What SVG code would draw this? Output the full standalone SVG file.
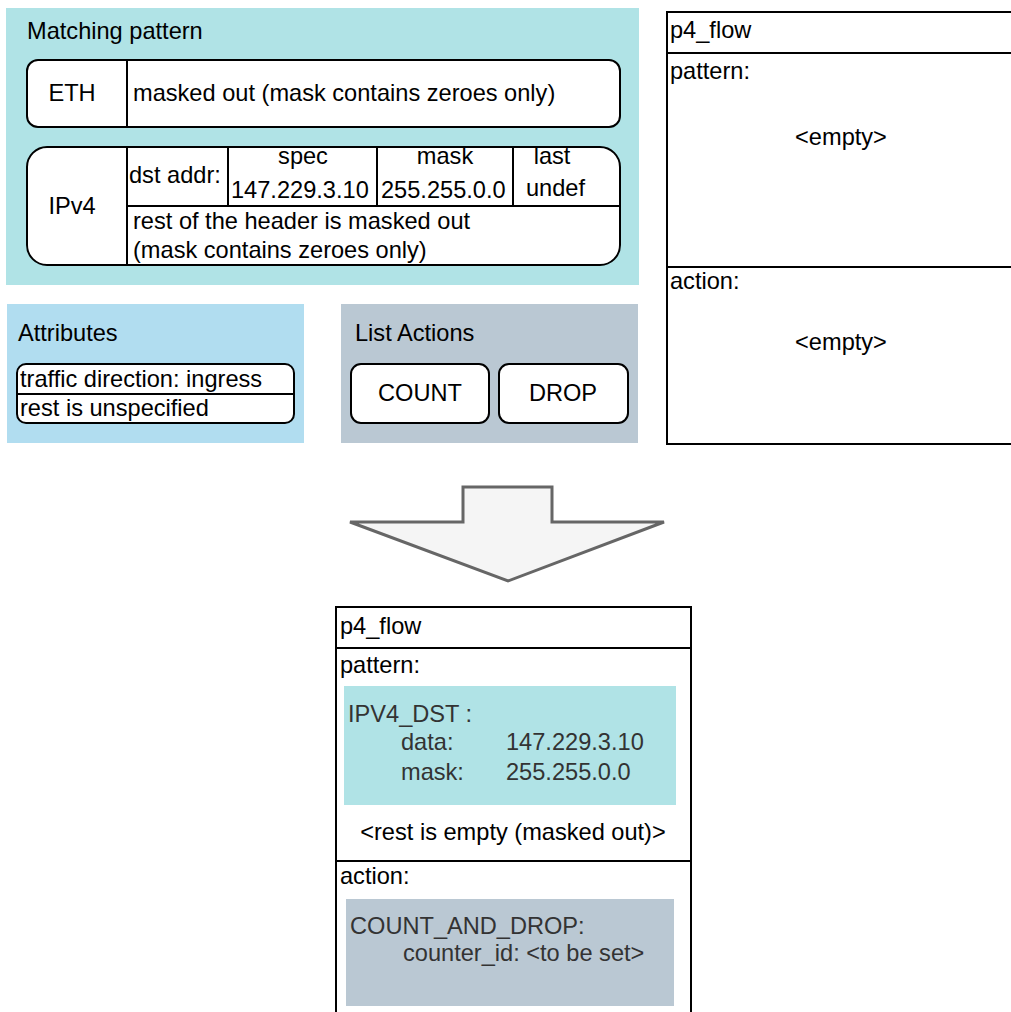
<svg xmlns="http://www.w3.org/2000/svg" width="1011" height="1012" viewBox="0 0 1011 1012">
  <style>
    text { font-family: "Liberation Sans", Arial, sans-serif; font-size: 23.6px; fill: #000; }
    .dim { fill: #333333; }
    .mid { text-anchor: middle; }
    .frame { fill: #ffffff; stroke: #000; stroke-width: 2; }
    .line { fill: none; stroke: #000; stroke-width: 2; }
  </style>
  <rect width="1011" height="1012" fill="#ffffff"/>

  <!-- Matching pattern panel -->
  <g id="matching-pattern">
    <rect x="6" y="8" width="633" height="277" fill="#b0e3e6"/>
    <text x="27" y="39">Matching pattern</text>
  </g>
  <g id="eth-row">
    <rect class="frame" x="27" y="60" width="593" height="67" rx="11"/>
    <line class="line" x1="127" y1="60" x2="127" y2="127"/>
    <text class="mid" x="72" y="101">ETH</text>
    <text x="133" y="101">masked out (mask contains zeroes only)</text>
  </g>
  <g id="ipv4-row">
    <rect class="frame" x="27" y="147" width="593" height="118" rx="20"/>
    <line class="line" x1="127" y1="147" x2="127" y2="265"/>
    <line class="line" x1="127" y1="206" x2="620" y2="206"/>
    <line class="line" x1="228" y1="147" x2="228" y2="206"/>
    <line class="line" x1="377" y1="147" x2="377" y2="206"/>
    <line class="line" x1="513" y1="147" x2="513" y2="206"/>
    <text class="mid" x="72" y="214">IPv4</text>
    <text x="129" y="183">dst addr:</text>
    <text class="mid" x="303" y="164">spec</text>
    <text x="231" y="198">147.229.3.10</text>
    <text class="mid" x="445" y="164">mask</text>
    <text x="381" y="198">255.255.0.0</text>
    <text class="mid" x="552" y="164">last</text>
    <text x="526" y="196">undef</text>
    <text x="133" y="229">rest of the header is masked out</text>
    <text x="133" y="258">(mask contains zeroes only)</text>
  </g>

  <!-- Attributes panel -->
  <g id="attributes">
    <rect x="7" y="304" width="297" height="139" fill="#b1ddf0"/>
    <text x="18" y="341">Attributes</text>
    <rect class="frame" x="17" y="364" width="277" height="59" rx="9"/>
    <line class="line" x1="17" y1="394" x2="294" y2="394"/>
    <text x="20" y="387">traffic direction: ingress</text>
    <text x="20" y="416">rest is unspecified</text>
  </g>

  <!-- List Actions panel -->
  <g id="list-actions">
    <rect x="341" y="304" width="297" height="139" fill="#bac8d3"/>
    <text x="355" y="341">List Actions</text>
  </g>
  <g id="action-count">
    <rect class="frame" x="351" y="364" width="138" height="59" rx="10"/>
    <text class="mid" x="420" y="401">COUNT</text>
  </g>
  <g id="action-drop">
    <rect class="frame" x="499" y="364" width="129" height="59" rx="10"/>
    <text class="mid" x="563" y="401">DROP</text>
  </g>

  <!-- Empty p4_flow -->
  <g id="p4-flow-empty">
    <rect class="frame" x="667" y="12" width="360" height="432"/>
    <line class="line" x1="667" y1="53" x2="1027" y2="53"/>
    <line class="line" x1="667" y1="267" x2="1027" y2="267"/>
    <text x="670" y="38">p4_flow</text>
    <text x="670" y="79">pattern:</text>
    <text class="mid" x="841" y="145">&lt;empty&gt;</text>
    <text x="670" y="289">action:</text>
    <text class="mid" x="841" y="350">&lt;empty&gt;</text>
  </g>

  <!-- Transformation arrow -->
  <g id="connectors">
    <polygon points="463,487 552,487 552,522 664,522 508,581 350,522 463,522" fill="#f5f5f5" stroke="#666666" stroke-width="3" stroke-linejoin="miter"/>
  </g>

  <!-- Resulting p4_flow -->
  <g id="p4-flow-result">
    <rect class="frame" x="336" y="607" width="355" height="420"/>
    <line class="line" x1="336" y1="648" x2="691" y2="648"/>
    <line class="line" x1="336" y1="861" x2="691" y2="861"/>
    <text x="340" y="634">p4_flow</text>
    <text x="340" y="673">pattern:</text>
    <rect x="344" y="686" width="332" height="119" fill="#b0e3e6"/>
    <text class="dim" x="348" y="722">IPV4_DST :</text>
    <text class="dim" x="401" y="750">data:</text>
    <text class="dim" x="506" y="750">147.229.3.10</text>
    <text class="dim" x="401" y="780">mask:</text>
    <text class="dim" x="506" y="780">255.255.0.0</text>
    <text class="mid" x="513" y="840">&lt;rest is empty (masked out)&gt;</text>
    <text x="340" y="884">action:</text>
    <rect x="346" y="899" width="328" height="107" fill="#bac8d3"/>
    <text class="dim" x="350" y="934">COUNT_AND_DROP:</text>
    <text class="dim" x="403" y="961">counter_id: &lt;to be set&gt;</text>
  </g>
</svg>
